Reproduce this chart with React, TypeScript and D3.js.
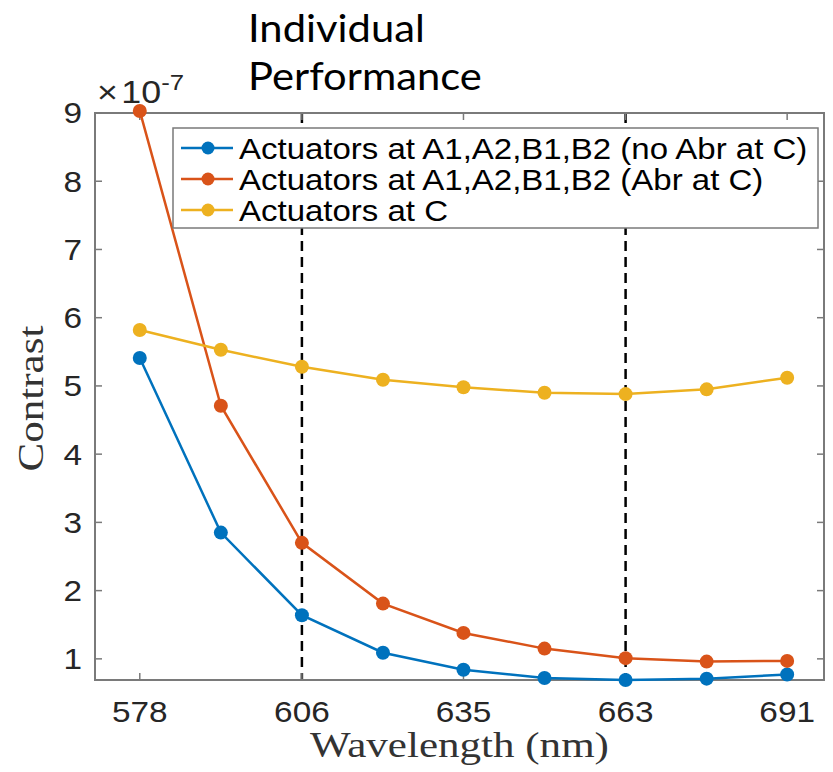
import * as d3 from "d3";
import React, { useEffect, useRef } from "react";

// wavelengths (nm) of the 9 sample points
const wavelengths = [577.5, 591.8, 606.1, 620.4, 634.6, 648.9, 663.2, 677.5, 691.7];
const xTickValues = [577.5, 606.1, 634.6, 663.2, 691.7];
const xTickLabels = ["578", "606", "635", "663", "691"];
const yTickValues = [1, 2, 3, 4, 5, 6, 7, 8, 9];
const dashedAt = [606.1, 663.2];

// contrast, units of 1e-7
const noAbr = [5.41, 2.85, 1.64, 1.09, 0.84, 0.72, 0.69, 0.71, 0.77];
const withAbr = [9.03, 4.71, 2.7, 1.81, 1.38, 1.15, 1.01, 0.96, 0.97];
const atC = [5.82, 5.53, 5.28, 5.09, 4.98, 4.9, 4.88, 4.95, 5.12];

const seriesNames = [
  "Actuators at A1,A2,B1,B2 (no Abr at C)",
  "Actuators at A1,A2,B1,B2 (Abr at C)",
  "Actuators at C",
];
const seriesColors = ["#0072BD", "#D95319", "#EDB120"];

const W = 833;
const H = 772;
const margin = { left: 95, right: 9, top: 113, bottom: 92 };

// the source picture is stretched sideways, so text gets a horizontal scale
function stretchedText(parent: any, x: number, y: number, sx: number) {
  return parent.append("text").attr("transform", `translate(${x},${y}) scale(${sx},1)`);
}

export default function App() {
  const ref = useRef<SVGSVGElement>(null);

  useEffect(() => {
    const svg = d3.select(ref.current);
    svg.selectAll("*").remove();
    const w = W - margin.left - margin.right;
    const h = H - margin.top - margin.bottom;

    const x = d3.scaleLinear().domain([569.6, 698.2]).range([0, w]);
    const y = d3.scaleLinear().domain([0.69, 9]).range([h, 0]);

    svg.append("rect").attr("width", W).attr("height", H).attr("fill", "#fff");

    // title (pasted text on the slide)
    const titleFont = "Lato, 'Open Sans', sans-serif";
    stretchedText(svg, 248, 42, 1.07)
      .attr("font-family", titleFont).attr("font-size", 39).attr("fill", "#000")
      .text("Individual");
    stretchedText(svg, 248, 90, 1.07)
      .attr("font-family", titleFont).attr("font-size", 39).attr("fill", "#000")
      .text("Performance");

    const g = svg.append("g").attr("transform", `translate(${margin.left},${margin.top})`);

    const axisColor = "#7a7a7a";
    const font = "'Liberation Sans', Arial, sans-serif";
    const serif = "'Liberation Serif', 'Times New Roman', serif";

    // dashed vertical guides
    g.selectAll(".guide")
      .data(dashedAt)
      .enter().append("line")
      .attr("x1", d => x(d)).attr("x2", d => x(d))
      .attr("y1", 0).attr("y2", h)
      .attr("stroke", "#000")
      .attr("stroke-width", 2.5)
      .attr("stroke-dasharray", "10,6");

    // box
    g.append("rect")
      .attr("width", w).attr("height", h)
      .attr("fill", "none")
      .attr("stroke", axisColor)
      .attr("stroke-width", 2);

    // ticks (inward, both sides)
    const tl = 7;
    xTickValues.forEach(v => {
      g.append("line").attr("x1", x(v)).attr("x2", x(v)).attr("y1", h).attr("y2", h - tl)
        .attr("stroke", axisColor).attr("stroke-width", 1.5);
      g.append("line").attr("x1", x(v)).attr("x2", x(v)).attr("y1", 0).attr("y2", tl)
        .attr("stroke", axisColor).attr("stroke-width", 1.5);
    });
    yTickValues.forEach(v => {
      g.append("line").attr("x1", 0).attr("x2", tl).attr("y1", y(v)).attr("y2", y(v))
        .attr("stroke", axisColor).attr("stroke-width", 1.5);
      g.append("line").attr("x1", w).attr("x2", w - tl).attr("y1", y(v)).attr("y2", y(v))
        .attr("stroke", axisColor).attr("stroke-width", 1.5);
    });

    xTickValues.forEach((v, i) => {
      stretchedText(g, x(v), h + 42, 1.15)
        .attr("text-anchor", "middle")
        .attr("font-family", font)
        .attr("font-size", 29)
        .attr("fill", "#262626")
        .text(xTickLabels[i]);
    });

    yTickValues.forEach(v => {
      stretchedText(g, -13, y(v), 1.15)
        .attr("dy", "0.36em")
        .attr("text-anchor", "end")
        .attr("font-family", font)
        .attr("font-size", 29)
        .attr("fill", "#262626")
        .text(v);
    });

    // exponent label
    const expo = stretchedText(g, 2, -10, 1.12)
      .attr("font-family", font)
      .attr("font-size", 32)
      .attr("fill", "#262626");
    expo.append("tspan").text("\u00d7");
    expo.append("tspan").attr("dx", 3).text("10");
    expo.append("tspan").attr("dy", -13).attr("font-size", 23).text("-7");

    // axis labels
    stretchedText(g, w / 2, h + 77, 1.23)
      .attr("text-anchor", "middle")
      .attr("font-family", serif)
      .attr("font-size", 35)
      .attr("fill", "#333")
      .text("Wavelength (nm)");

    g.append("text")
      .attr("transform", `translate(${-52},${h / 2 + 2}) rotate(-90) scale(1.23,1)`)
      .attr("text-anchor", "middle")
      .attr("font-family", serif)
      .attr("font-size", 35)
      .attr("fill", "#333")
      .text("Contrast");

    // series
    const series = [noAbr, withAbr, atC];
    const line = d3.line<number>()
      .x((d, i) => x(wavelengths[i]))
      .y(d => y(d));

    series.forEach((vals, k) => {
      g.append("path")
        .datum(vals)
        .attr("fill", "none")
        .attr("stroke", seriesColors[k])
        .attr("stroke-width", 2.5)
        .attr("d", line);
      g.selectAll(".pt" + k)
        .data(vals)
        .enter().append("circle")
        .attr("cx", (d, i) => x(wavelengths[i]))
        .attr("cy", d => y(d))
        .attr("r", 7)
        .attr("fill", seriesColors[k]);
    });

    // legend
    const lg = svg.append("g").attr("transform", "translate(173,128)");
    lg.append("rect")
      .attr("width", 645).attr("height", 100)
      .attr("fill", "#fff")
      .attr("stroke", axisColor)
      .attr("stroke-width", 1.5);
    seriesNames.forEach((name, k) => {
      const yy = 20 + k * 31;
      lg.append("line").attr("x1", 8).attr("x2", 60).attr("y1", yy).attr("y2", yy)
        .attr("stroke", seriesColors[k]).attr("stroke-width", 2.5);
      lg.append("circle").attr("cx", 35).attr("cy", yy).attr("r", 6.5).attr("fill", seriesColors[k]);
      stretchedText(lg, 66, yy, 1.1)
        .attr("dy", "0.36em")
        .attr("font-family", font)
        .attr("font-size", 30)
        .attr("fill", "#000")
        .text(name);
    });
  }, []);

  return (
    <svg
      ref={ref}
      width={W}
      height={H}
      style={{ position: "absolute", left: 0, top: 0 }}
    />
  );
}
